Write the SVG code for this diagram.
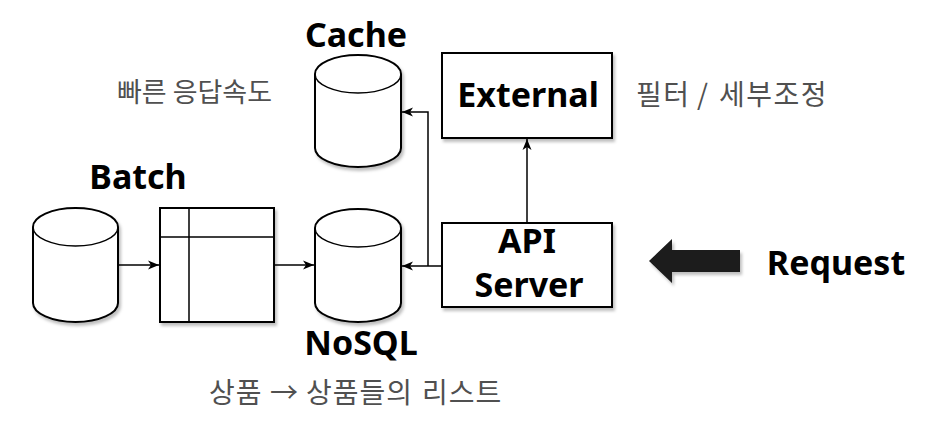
<svg xmlns="http://www.w3.org/2000/svg" width="930" height="435" viewBox="0 0 930 435">
<style>
.shape{fill:#fff;stroke:#000;stroke-width:2;filter:url(#sh)}
.ln{fill:none;stroke:#000;stroke-width:1.5}
.edge{fill:none;stroke:#000;stroke-width:1.5;marker-end:url(#arr)}
.bold{font-family:"Noto Sans","Open Sans","Liberation Sans",sans-serif;font-weight:bold;font-size:34px;fill:#000;text-anchor:middle}
.kr{font-family:"Noto Sans CJK KR","Noto Sans",sans-serif;font-size:28px;fill:#505050;text-anchor:start}
</style>
<defs>
<filter id="sh" x="-20%" y="-20%" width="140%" height="140%">
<feDropShadow dx="2" dy="3" stdDeviation="1.5" flood-color="#000" flood-opacity="0.25"/>
</filter>
<marker id="arr" markerWidth="12" markerHeight="10" refX="11" refY="5" orient="auto" markerUnits="userSpaceOnUse">
<path d="M0,0.5 L11,5 L0,9.5 L3,5 Z" fill="#000"/>
</marker>
</defs>
<rect width="930" height="435" fill="#fff"/>

<g id="connectors">
<path class="edge" d="M118,265 L159,265"/>
<path class="edge" d="M274,265 L314,265"/>
<path class="edge" d="M442,266 L402,266"/>
<path class="edge" d="M428,266 L428,112 L402,112"/>
<path class="edge" d="M527,223 L527,139"/>
</g>

<g id="batch-db">
<path class="shape" d="M33,227 A42.5,19 0 0 1 118,227 L118,303 A42.5,19 0 0 1 33,303 Z"/>
<path class="ln" d="M33,227 A42.5,19 0 0 0 118,227"/>
<text class="bold" x="138" y="189">Batch</text>
</g>

<g id="batch-table">
<rect class="shape" x="160" y="208" width="114" height="114"/>
<path class="ln" d="M189,208 L189,322 M160,237 L274,237"/>
</g>

<g id="cache">
<path class="shape" d="M315,74 A43,19 0 0 1 401,74 L401,148 A43,19 0 0 1 315,148 Z"/>
<path class="ln" d="M315,74 A43,19 0 0 0 401,74"/>
<text class="bold" x="356" y="47">Cache</text>
<text class="kr" x="117" y="102" textLength="155" style="font-size:27px">빠른 응답속도</text>
</g>

<g id="nosql">
<path class="shape" d="M315,228 A43,19 0 0 1 401,228 L401,303 A43,19 0 0 1 315,303 Z"/>
<path class="ln" d="M315,228 A43,19 0 0 0 401,228"/>
<text class="bold" x="361" y="355">NoSQL</text>
<text class="kr" y="403" style="letter-spacing:1px"><tspan x="209">상품</tspan> <tspan x="270">→</tspan> <tspan x="306">상품들의</tspan> <tspan x="422">리스트</tspan></text>
</g>

<g id="external">
<rect class="shape" x="442" y="53" width="170" height="85"/>
<text class="bold" x="528" y="107">External</text>
<text class="kr" y="105" style="font-size:28px;letter-spacing:1.5px"><tspan x="636">필터</tspan> <tspan x="697">/</tspan> <tspan x="719">세부조정</tspan></text>
</g>

<g id="api-server">
<rect class="shape" x="442" y="223" width="170" height="84"/>
<text class="bold" x="527" y="253">API</text>
<text class="bold" x="529" y="297">Server</text>
</g>

<g id="request">
<polygon points="649,261 672,239 672,250 740,250 740,272 672,272 672,283" fill="#1a1a1a" filter="url(#sh)"/>
<text class="bold" x="836" y="275">Request</text>
</g>
</svg>
